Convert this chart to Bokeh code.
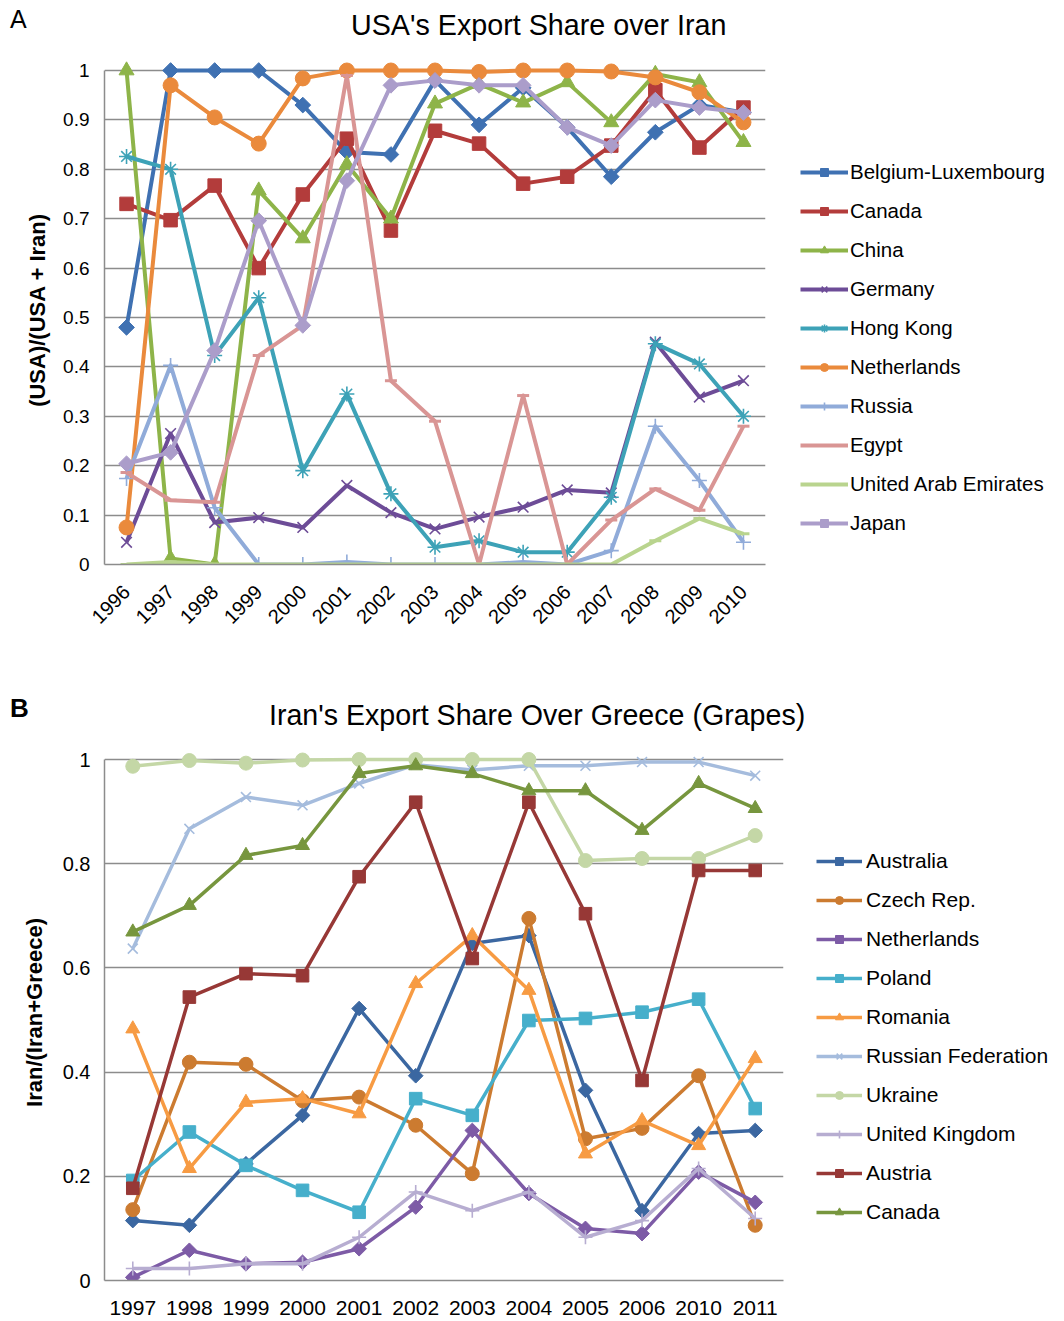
import math
from bokeh.plotting import figure
from bokeh.models import FactorRange, FixedTicker, Legend, LegendItem, Div
from bokeh.layouts import column
from bokeh.embed import file_html
from bokeh.resources import INLINE

FONT = "Liberation Sans"
GRID = "#8c8c8c"

# ---------------- Panel A data ----------------
years_a = ["1996", "1997", "1998", "1999", "2000", "2001", "2002", "2003",
           "2004", "2005", "2006", "2007", "2008", "2009", "2010"]
belgium_lux = [0.48, 1.0, 1.0, 1.0, 0.93, 0.835, 0.83, 0.98, 0.89, 0.965, 0.885, 0.785, 0.875, 0.93, 0.915]
canada_a = [0.73, 0.697, 0.767, 0.60, 0.749, 0.862, 0.676, 0.878, 0.852, 0.771, 0.785, 0.848, 0.96, 0.844, 0.925]
china = [1.0, 0.012, 0.0, 0.757, 0.66, 0.81, 0.70, 0.933, 0.973, 0.935, 0.976, 0.895, 0.993, 0.976, 0.855]
germany = [0.045, 0.265, 0.085, 0.095, 0.075, 0.16, 0.105, 0.072, 0.096, 0.116, 0.151, 0.145, 0.45, 0.339, 0.372]
hong_kong = [0.826, 0.80, 0.423, 0.54, 0.19, 0.345, 0.143, 0.035, 0.048, 0.025, 0.025, 0.136, 0.447, 0.406, 0.30]
netherlands_a = [0.075, 0.97, 0.905, 0.852, 0.984, 1.0, 1.0, 1.0, 0.997, 1.0, 1.0, 0.998, 0.986, 0.956, 0.895]
russia = [0.174, 0.403, 0.115, 0.0, 0.0, 0.005, 0.0, 0.0, 0.0, 0.005, 0.0, 0.028, 0.28, 0.17, 0.045]
egypt = [0.186, 0.13, 0.126, 0.423, 0.484, 0.99, 0.372, 0.29, 0.0, 0.342, 0.0, 0.09, 0.153, 0.11, 0.28]
uae = [0.0, 0.005, 0.0, 0.0, 0.0, 0.0, 0.0, 0.0, 0.0, 0.0, 0.0, 0.0, 0.048, 0.093, 0.062]
japan = [0.204, 0.227, 0.433, 0.696, 0.484, 0.777, 0.97, 0.98, 0.97, 0.97, 0.885, 0.848, 0.94, 0.925, 0.915]
ticks_a = [0, 0.1, 0.2, 0.3, 0.4, 0.5, 0.6, 0.7, 0.8, 0.9, 1]

series_a = [
    ("Belgium-Luxembourg", belgium_lux, "#3f71b2", "diamond"),
    ("Canada", canada_a, "#b33c3b", "square"),
    ("China", china, "#8eb449", "triangle"),
    ("Germany", germany, "#6d4c97", "x"),
    ("Hong Kong", hong_kong, "#3da2b7", "asterisk"),
    ("Netherlands", netherlands_a, "#ea8a3c", "circle"),
    ("Russia", russia, "#90abd9", "cross"),
    ("Egypt", egypt, "#d99594", "dash"),
    ("United Arab Emirates", uae, "#b9d48e", "dash"),
    ("Japan", japan, "#ab9dca", "diamond"),
]

# ---------------- Panel B data ----------------
years_b = ["1997", "1998", "1999", "2000", "2001", "2002", "2003", "2004",
           "2005", "2006", "2010", "2011"]
australia = [0.115, 0.106, 0.224, 0.317, 0.522, 0.393, 0.647, 0.662, 0.365, 0.134, 0.282, 0.288]
czech = [0.136, 0.419, 0.415, 0.345, 0.352, 0.298, 0.205, 0.695, 0.272, 0.292, 0.393, 0.106]
netherlands_b = [0.006, 0.058, 0.032, 0.035, 0.061, 0.141, 0.288, 0.167, 0.10, 0.09, 0.208, 0.15]
poland = [0.192, 0.285, 0.221, 0.173, 0.131, 0.349, 0.317, 0.499, 0.503, 0.515, 0.54, 0.33]
romania = [0.483, 0.215, 0.342, 0.349, 0.32, 0.57, 0.662, 0.557, 0.243, 0.307, 0.259, 0.426]
russian_fed = [0.637, 0.867, 0.928, 0.912, 0.954, 0.99, 0.98, 0.988, 0.988, 0.995, 0.995, 0.969]
ukraine = [0.987, 0.998, 0.993, 0.999, 1.0, 1.0, 1.0, 1.0, 0.806, 0.81, 0.81, 0.854]
uk = [0.023, 0.023, 0.032, 0.032, 0.083, 0.17, 0.134, 0.17, 0.083, 0.115, 0.215, 0.119]
austria = [0.177, 0.544, 0.589, 0.585, 0.775, 0.918, 0.618, 0.918, 0.704, 0.384, 0.787, 0.787]
canada_b = [0.669, 0.72, 0.816, 0.835, 0.973, 0.988, 0.973, 0.94, 0.94, 0.864, 0.954, 0.906]
ticks_b = [0, 0.2, 0.4, 0.6, 0.8, 1]

series_b = [
    ("Australia", australia, "#3b67a1", "diamond"),
    ("Czech Rep.", czech, "#cc7b30", "circle"),
    ("Netherlands", netherlands_b, "#7d5ba6", "diamond"),
    ("Poland", poland, "#46afcb", "square"),
    ("Romania", romania, "#f79b43", "triangle"),
    ("Russian Federation", russian_fed, "#a5bcdd", "x"),
    ("Ukraine", ukraine, "#c4d7a6", "circle"),
    ("United Kingdom", uk, "#b7add1", "cross"),
    ("Austria", austria, "#973836", "square"),
    ("Canada", canada_b, "#77963e", "triangle"),
]


def add_series(p, xs, series, lw, msize):
    items = []
    for name, ys, color, marker in series:
        lr = p.line(xs, ys, line_color=color, line_width=lw, line_join="round")
        kw = dict(fill_color=color, line_color=color)
        size = msize
        angle = 0.0
        m = marker
        if marker == "diamond":
            m = "square"
            angle = math.pi / 4
            size = msize * 0.74
        elif marker == "square":
            size = msize * 0.9
        elif marker in ("x", "asterisk", "cross"):
            kw["line_width"] = 1.6
        elif marker == "dash":
            kw["line_width"] = 3
            size = msize * 0.8
        sr = p.scatter(xs, ys, marker=m, size=size, angle=angle, **kw)
        items.append(LegendItem(label=name, renderers=[lr, sr]))
    return items


def style_axes(p, ticks, tick_font_size):
    p.outline_line_color = None
    p.background_fill_color = "white"
    p.border_fill_color = "white"
    p.xgrid.visible = False
    p.ygrid.ticker = FixedTicker(ticks=ticks)
    p.ygrid.grid_line_color = GRID
    p.ygrid.grid_line_width = 1.5
    p.yaxis.ticker = FixedTicker(ticks=ticks)
    p.yaxis.bounds = (0, 1)
    p.yaxis.major_label_overrides = {0: "0", 1: "1"}
    for ax in (p.xaxis, p.yaxis):
        ax.axis_line_color = GRID
        ax.axis_line_width = 1.5
        ax.major_tick_line_color = None
        ax.minor_tick_line_color = None
        ax.major_label_text_font = FONT
        ax.major_label_text_font_size = tick_font_size
        ax.major_label_text_color = "black"
        ax.axis_label_text_font = FONT
        ax.axis_label_text_font_style = "bold"
        ax.axis_label_text_color = "black"


def header(height, items):
    spans = []
    for txt, left, top, size, weight in items:
        spans.append(
            '<span style="position:absolute;left:%dpx;top:%dpx;font-family:\'%s\';'
            'font-size:%s;font-weight:%s;line-height:1;white-space:nowrap;color:#000;">%s</span>'
            % (left, top, FONT, size, weight, txt))
    html = ('<div style="position:relative;width:1064px;height:%dpx;overflow:visible;">%s</div>'
            % (height, "".join(spans)))
    return Div(text=html, width=1064, height=height, margin=0)


# ---------------- Header A ----------------
head_a = header(50, [("A", 10, 7, "25px", "normal"),
                     ("USA's Export Share over Iran", 351, 11, "28.7px", "normal")])

# ---------------- Figure A ----------------
pad_a = 15 / 494.0
pa = figure(x_range=FactorRange(factors=years_a), y_range=(0, 1 + pad_a),
            frame_width=661, frame_height=509,
            min_border_left=104, min_border_right=281, min_border_top=5, min_border_bottom=68,
            output_backend="svg", toolbar_location=None, title=None)
style_axes(pa, ticks_a, "19px")
pa.xaxis.major_label_orientation = math.pi / 4
pa.xaxis.major_label_standoff = 18
pa.xaxis.major_label_text_font_size = "20px"
pa.yaxis.major_label_standoff = 9
pa.yaxis.axis_label = "(USA)/(USA + Iran)"
pa.yaxis.axis_label_text_font_size = "22px"
pa.yaxis.axis_label_standoff = 10

items_a = add_series(pa, years_a, series_a, 4, 15)
leg_a = Legend(items=items_a, location=(35, 29), orientation="vertical",
               background_fill_alpha=0, border_line_color=None, padding=0, margin=18,
               spacing=15, glyph_width=48, glyph_height=20, label_height=20,
               label_standoff=2, label_text_font=FONT, label_text_font_size="20.5px",
               label_text_color="black")
pa.add_layout(leg_a, "right")

# ---------------- Header B ----------------
head_b = header(107, [("B", 10, 63, "26px", "bold"),
                      ("Iran's Export Share Over Greece (Grapes)", 269, 69, "28.6px", "normal")])

# ---------------- Figure B ----------------
pad_b = 15 / 521.0
pb = figure(x_range=FactorRange(factors=years_b), y_range=(0, 1 + pad_b),
            frame_width=679, frame_height=536,
            min_border_left=104, min_border_right=281, min_border_top=5, min_border_bottom=39,
            output_backend="svg", toolbar_location=None, title=None)
style_axes(pb, ticks_b, "20px")
pb.xaxis.major_label_standoff = 14
pb.xaxis.major_label_text_font_size = "21px"
pb.yaxis.major_label_standoff = 8
pb.yaxis.axis_label = "Iran/(Iran+Greece)"
pb.yaxis.axis_label_text_font_size = "22px"
pb.yaxis.axis_label_standoff = 13

items_b = add_series(pb, years_b, series_b, 3.5, 14)
leg_b = Legend(items=items_b, location=(33, 56), orientation="vertical",
               background_fill_alpha=0, border_line_color=None, padding=0, margin=17,
               spacing=15, glyph_width=46, glyph_height=20, label_height=20,
               label_standoff=4, label_text_font=FONT, label_text_font_size="21px",
               label_text_color="black")
pb.add_layout(leg_b, "right")

layout = column(head_a, pa, head_b, pb, spacing=0)
open("out.html", "w").write(file_html(layout, INLINE))
